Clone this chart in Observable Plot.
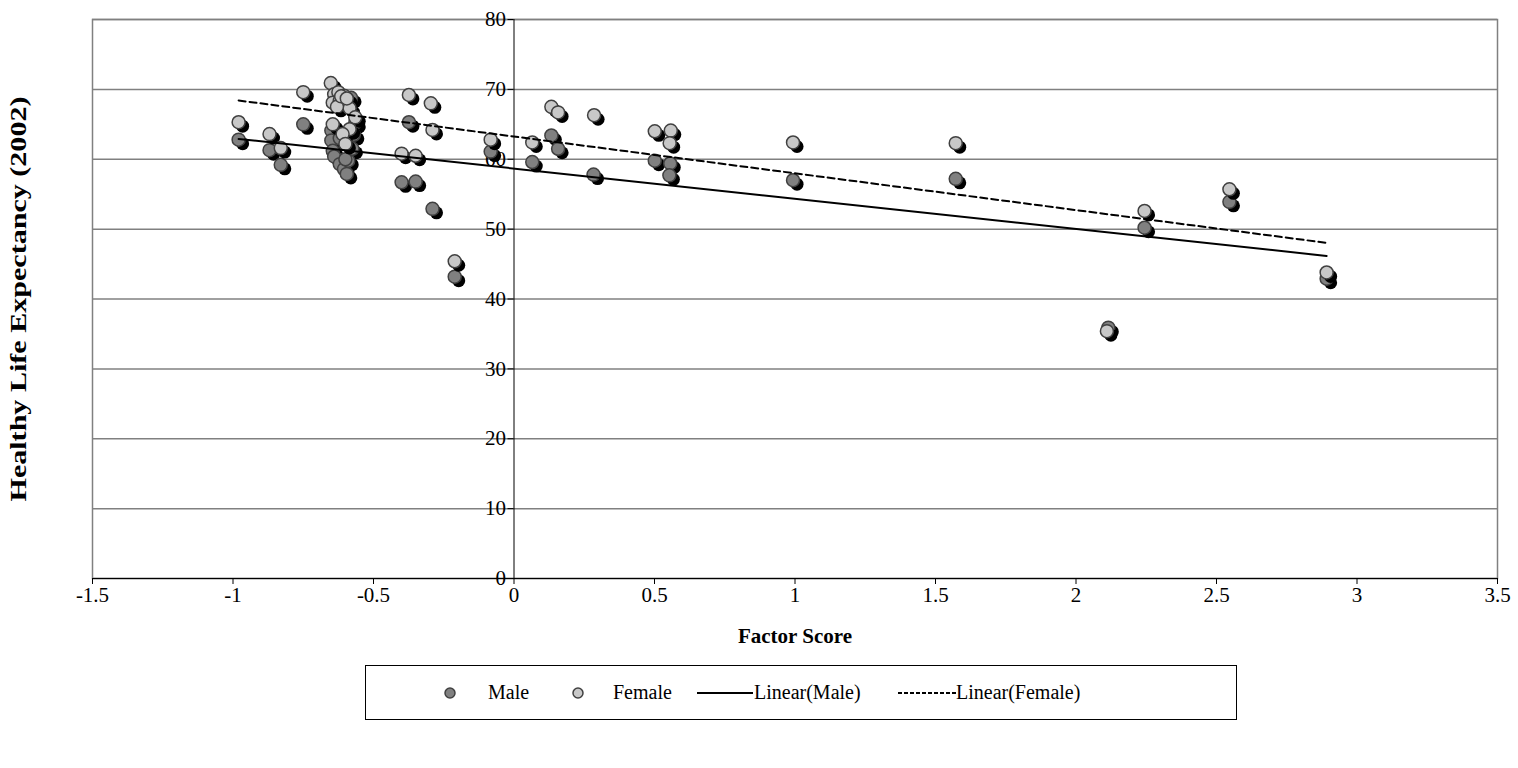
<!DOCTYPE html>
<html><head><meta charset="utf-8">
<script src="https://cdn.jsdelivr.net/npm/d3@7"></script>
<script src="https://cdn.jsdelivr.net/npm/@observablehq/plot@0.6"></script>
<style>
body{margin:0;background:#fff;font-family:"Liberation Serif","Times New Roman",serif;}
#wrap{position:relative;width:1518px;height:768px;background:#fff;}
#legend{position:absolute;left:365px;top:665px;width:872px;height:55px;border:1px solid #000;box-sizing:border-box;font-size:20px;color:#000;}
#legend .it{position:absolute;top:0;height:53px;line-height:53px;white-space:nowrap;}
#legend svg{position:absolute;top:0;}
</style></head>
<body><div id="wrap"><div id="chart"></div>
<div id="legend">
<svg width="872" height="53" style="left:0">
<circle cx="84" cy="27" r="5" fill="#808080" stroke="#404040" stroke-width="1.5"></circle>
<circle cx="212" cy="27" r="5" fill="#c8c8c8" stroke="#404040" stroke-width="1.5"></circle>
<line x1="331" x2="387" y1="27" y2="27" stroke="#000" stroke-width="2"></line>
<line x1="532" x2="590" y1="27" y2="27" stroke="#000" stroke-width="2" stroke-dasharray="4,2"></line>
</svg>
<span class="it" style="left:122px">Male</span>
<span class="it" style="left:247px">Female</span>
<span class="it" style="left:388px">Linear(Male)</span>
<span class="it" style="left:590px">Linear(Female)</span>
</div></div>
<script>
// Factor score and healthy life expectancy (2002)
const maleScore = [-0.98, -0.87, -0.83, -0.75,
  -0.65, -0.65, -0.645, -0.64, -0.62, -0.605, -0.595, -0.59, -0.57, -0.565, -0.575, -0.62, -0.58, -0.60,
  -0.374, -0.40, -0.35, -0.29, -0.211, -0.083, 0.065, 0.133, 0.157, 0.283,
  0.501, 0.556, 0.553, 0.993, 1.572, 2.115, 2.244, 2.546, 2.892];
const maleHale = [62.8, 61.3, 59.2, 65.0,
  64.1, 62.7, 61.2, 60.4, 59.3, 58.6, 57.9, 59.8, 63.5, 65.2, 61.5, 63.0, 68.8, 60.0,
  65.3, 56.7, 56.8, 52.9, 43.2, 61.1, 59.6, 63.4, 61.5, 57.8,
  59.8, 59.4, 57.7, 57.0, 57.2, 35.9, 50.2, 53.9, 42.9];
const femaleScore = [-0.98, -0.87, -0.83, -0.75,
  -0.652, -0.64, -0.625, -0.605, -0.645, -0.62, -0.60, -0.585, -0.63, -0.615, -0.595, -0.565, -0.645, -0.585, -0.61, -0.60,
  -0.374, -0.296, -0.29, -0.40, -0.35, -0.211, -0.083, 0.065, 0.133, 0.157, 0.285,
  0.501, 0.558, 0.554, 0.993, 1.572, 2.11, 2.244, 2.546, 2.892];
const femaleHale = [65.3, 63.6, 61.6, 69.6,
  70.9, 69.3, 69.6, 69.1, 68.1, 68.4, 67.9, 67.3, 67.5, 69.0, 68.7, 66.0, 65.0, 64.3, 63.6, 62.2,
  69.2, 68.0, 64.2, 60.8, 60.5, 45.4, 62.8, 62.4, 67.5, 66.7, 66.3,
  64.0, 64.1, 62.3, 62.4, 62.3, 35.4, 52.6, 55.7, 43.8];
const xTicks = [-1.5, -1, -0.5, 0, 0.5, 1, 1.5, 2, 2.5, 3, 3.5];
const yTicks = [0, 10, 20, 30, 40, 50, 60, 70, 80];
const xTitle = "Factor Score";
const yTitle = "Healthy Life Expectancy (2002)";

const male = maleScore.map((x, i) => ({x, y: maleHale[i]}));
const female = femaleScore.map((x, i) => ({x, y: femaleHale[i]}));

const W = 1518, H = 660, mL = 92, mR = 21, mT = 19, mB = 82;
const zeroDx = (0 - xTicks[0]) / (xTicks[xTicks.length - 1] - xTicks[0]) * (W - mL - mR);

const chart = Plot.plot({
  width: W, height: H, marginLeft: mL, marginRight: mR, marginTop: mT, marginBottom: mB,
  style: {fontFamily: "'Liberation Serif','Times New Roman',serif", fontSize: "21px", color: "#000", background: "#fff", overflow: "visible"},
  x: {domain: [xTicks[0], xTicks[xTicks.length - 1]]},
  y: {domain: [yTicks[0], yTicks[yTicks.length - 1]]},
  marks: [
    Plot.gridY(yTicks, {stroke: "#808080", strokeOpacity: 1, strokeWidth: 1.5}),
    Plot.frame({stroke: "#808080", strokeWidth: 1.5}),
    Plot.ruleX([0], {stroke: "#000", strokeWidth: 1}),
    Plot.ruleY([0], {stroke: "#000", strokeWidth: 1}),
    Plot.axisX(xTicks, {tickFormat: d => String(d), tickSize: 6, tickPadding: 3, label: null, fontSize: 21}),
    Plot.axisY(yTicks, {anchor: "left", dx: zeroDx, tickSize: 6, tickPadding: 2, label: null, fontSize: 21, tickFormat: d => String(d)}),
    Plot.dot(male, {x: "x", y: "y", r: 6.5, fill: "#000", dx: 4, dy: 4}),
    Plot.dot(male, {x: "x", y: "y", r: 6.5, fill: "#808080", stroke: "#404040", strokeWidth: 1.5}),
    Plot.dot(female, {x: "x", y: "y", r: 6.5, fill: "#000", dx: 4, dy: 4}),
    Plot.dot(female, {x: "x", y: "y", r: 6.5, fill: "#c8c8c8", stroke: "#404040", strokeWidth: 1.5}),
    Plot.linearRegressionY(male, {x: "x", y: "y", stroke: "#000", strokeWidth: 2, ci: 0}),
    Plot.linearRegressionY(female, {x: "x", y: "y", stroke: "#000", strokeWidth: 2, strokeDasharray: "7,4", ci: 0}),
    Plot.text([xTitle], {frameAnchor: "bottom", dy: 64, fontWeight: "bold", fontSize: 21}),
    Plot.text([yTitle], {frameAnchor: "left", textAnchor: "middle", dx: -74, rotate: -90, fontWeight: "bold", fontSize: 23})
  ]
});
d3.select(chart).selectAll("text")
  .filter(function () { return this.textContent === yTitle; })
  .attr("textLength", 405).attr("lengthAdjust", "spacingAndGlyphs");
document.getElementById("chart").appendChild(chart);
</script>
</body></html>
